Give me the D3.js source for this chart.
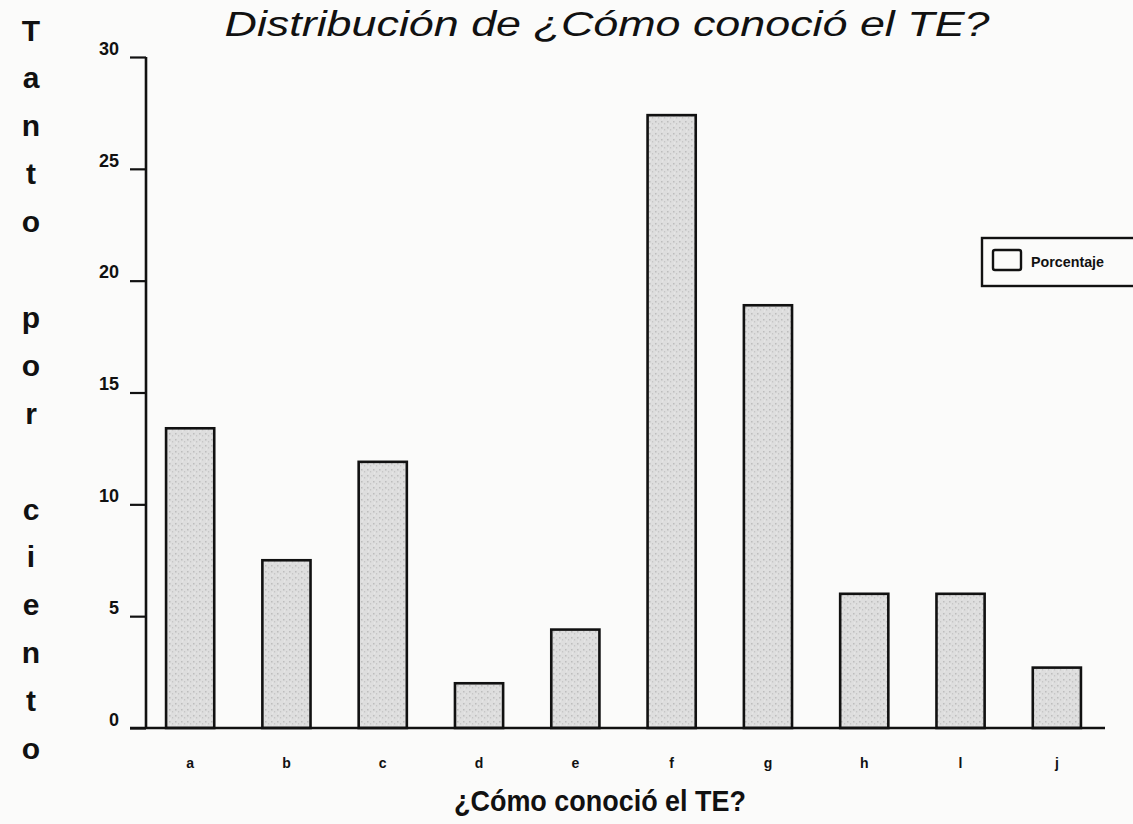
<!DOCTYPE html>
<html><head><meta charset="utf-8">
<script src="https://cdn.jsdelivr.net/npm/d3@7"></script>
<style>
html,body{margin:0;padding:0;background:#fbfbfa;}
text{font-family:"Liberation Sans Narrow","Liberation Sans",Arial,sans-serif;}
</style></head>
<body>
<svg id="chart" width="1133" height="824"></svg>
<script>
const categories = ["a","b","c","d","e","f","g","h","i","j"];
const tickLabels = ["a","b","c","d","e","f","g","h","l","j"];
const porcentaje = [13.4, 7.5, 11.9, 2.0, 4.4, 27.4, 18.9, 6.0, 6.0, 2.7];
const yTicks = [0, 5, 10, 15, 20, 25, 30];
const yLabelText = "Tanto por ciento";
const title = "Distribución de ¿Cómo conoció el TE?";
const xTitle = "¿Cómo conoció el TE?";
const legendLabel = "Porcentaje";

const svg = d3.select("#chart");
const x = d3.scaleBand().domain(categories).range([142, 1105]).paddingInner(0.5).paddingOuter(0.25);
const y = d3.scaleLinear().domain([0, 30]).range([728, 57]);

// pattern for speckled gray fill
const defs = svg.append("defs");
const pat = defs.append("pattern").attr("id","speck").attr("width",6).attr("height",6).attr("patternUnits","userSpaceOnUse");
pat.append("rect").attr("width",6).attr("height",6).attr("fill","#dedede");
pat.append("rect").attr("x",1).attr("y",1).attr("width",1.5).attr("height",1.5).attr("fill","#bdbdbd");
pat.append("rect").attr("x",4).attr("y",3).attr("width",1.2).attr("height",1.5).attr("fill","#c6c6c6");
pat.append("rect").attr("x",2).attr("y",4.5).attr("width",1).attr("height",1).attr("fill","#ececec");

// title
svg.append("text").attr("x", 607).attr("y", 36).attr("text-anchor","middle")
  .attr("font-size", 35).attr("font-style","italic")
  .attr("textLength", 765).attr("lengthAdjust","spacingAndGlyphs")
  .attr("fill","#111").text(title);

// bars
svg.append("g").selectAll("rect").data(porcentaje).join("rect")
  .attr("x", (d,i) => x(categories[i]))
  .attr("y", d => y(d))
  .attr("width", x.bandwidth())
  .attr("height", d => y(0) - y(d))
  .attr("fill","url(#speck)").attr("stroke","#111").attr("stroke-width",2.6);

// y axis
const yAxis = svg.append("g").attr("transform","translate(146,0)")
  .call(d3.axisLeft(y).tickValues(yTicks).tickSize(16).tickPadding(11));
yAxis.select(".domain").attr("stroke","#111").attr("stroke-width",2.6).attr("d","M0,57V728");
yAxis.selectAll(".tick line").attr("stroke","#111").attr("stroke-width",2.2);
yAxis.selectAll(".tick text").attr("font-size",18).attr("font-weight","bold").attr("fill","#111").attr("dy","-0.15em");

// x axis
const xAxis = svg.append("g").attr("transform","translate(0,728)")
  .call(d3.axisBottom(x).tickSize(0).tickPadding(30).tickFormat((d,i) => tickLabels[i]));
xAxis.select(".domain").attr("stroke","#111").attr("stroke-width",2.6).attr("d","M130,0H1105");
xAxis.selectAll(".tick text").attr("font-size",14).attr("font-weight","bold").attr("fill","#111");

// x title
svg.append("text").attr("x", 600).attr("y", 811).attr("text-anchor","middle")
  .attr("font-size", 30).attr("font-weight","bold")
  .attr("textLength", 292).attr("lengthAdjust","spacingAndGlyphs")
  .attr("fill","#111").text(xTitle);

// vertical y label, stacked letters
const chars = yLabelText.split("");
svg.append("g").selectAll("text").data(chars).join("text")
  .attr("x", 31).attr("y", (d,i) => 30 + i*47.9)
  .attr("dominant-baseline","central").attr("text-anchor","middle")
  .attr("font-size", 30).attr("font-weight","bold").attr("fill","#111")
  .text(d => d);

// legend
const lg = svg.append("g");
lg.append("rect").attr("x",982).attr("y",238).attr("width",160).attr("height",48)
  .attr("fill","#fbfbfa").attr("stroke","#111").attr("stroke-width",2.4);
lg.append("rect").attr("x",993).attr("y",250).attr("width",28).attr("height",20).attr("rx",2)
  .attr("fill","#fbfbfa").attr("stroke","#111").attr("stroke-width",2.4);
lg.append("text").attr("x",1031).attr("y",261).attr("dominant-baseline","central")
  .attr("font-size",15).attr("font-weight","bold")
  .attr("textLength",73).attr("lengthAdjust","spacingAndGlyphs")
  .attr("fill","#111").text(legendLabel);
</script>
</body></html>
